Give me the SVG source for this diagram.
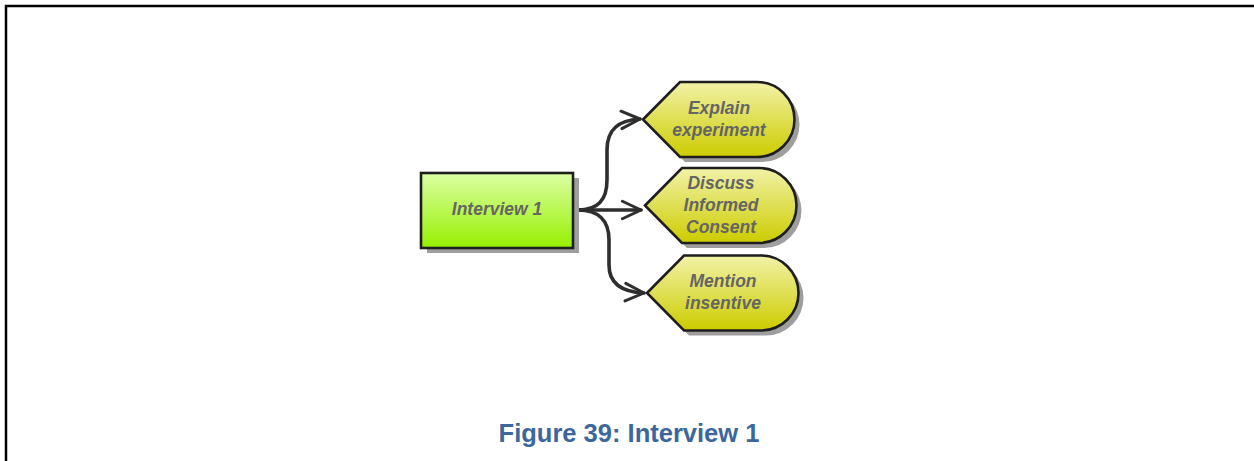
<svg xmlns="http://www.w3.org/2000/svg" width="1254" height="461" viewBox="0 0 1254 461">
  <style>
    .node-text { font-family: "Liberation Sans", Arial, sans-serif; font-weight: bold; font-style: italic; font-size: 17.5px; fill: #656565; text-anchor: middle; }
    .outline { stroke: #1e1e1e; stroke-width: 2.6; }
    .shadow { fill: #9e9e9e; filter: url(#soft); }
    .conn { fill: none; stroke: #2e2e2e; stroke-width: 3.6; stroke-linecap: round; stroke-linejoin: round; }
    .caption { font-family: "Liberation Sans", Arial, sans-serif; font-weight: bold; font-size: 25.5px; fill: #3b679d; text-anchor: middle; }
  </style>
  <defs>
    <linearGradient id="greenFill" x1="0" y1="0" x2="0" y2="1">
      <stop offset="0" stop-color="#dcffa4"/>
      <stop offset="1" stop-color="#96f000"/>
    </linearGradient>
    <linearGradient id="yellowFill" x1="0" y1="0" x2="0" y2="1">
      <stop offset="0" stop-color="#f2f2a8"/>
      <stop offset="1" stop-color="#cccc00"/>
    </linearGradient>
    <filter id="soft" x="-10%" y="-10%" width="120%" height="120%">
      <feGaussianBlur stdDeviation="0.6"/>
    </filter>
    <marker id="chevron" viewBox="0 0 12 12" refX="11" refY="6" markerWidth="6.2" markerHeight="6.2" orient="auto" markerUnits="strokeWidth">
      <path d="M1,1.3 L11,6 L1,10.7" fill="none" stroke="#2e2e2e" stroke-width="1.6" stroke-linecap="round" stroke-linejoin="round"/>
    </marker>
    <path id="tag" d="M0,0 L37,-37.5 L114,-37.5 A37.5,37.5 0 0 1 114,37.5 L37,37.5 Z"/>
  </defs>

  <rect width="1254" height="461" fill="#ffffff"/>

  <!-- page frame: left and top rule -->
  <path d="M6,461 L6,6 L1254,6" fill="none" stroke="#000000" stroke-width="2.5"/>

  <!-- connectors -->
  <g id="connectors">
    <path class="conn" d="M574,210 L590,210"/>
    <path class="conn" d="M584,210 L641,210" marker-end="url(#chevron)"/>
    <path class="conn" d="M578,210 C598,210 607,200 607,180 L607,150 C607,128 620,120 640,119" marker-end="url(#chevron)"/>
    <path class="conn" d="M578,210 C598,210 609,220 609,240 L609,265 C609,284 622,292 644,293" marker-end="url(#chevron)"/>
  </g>

  <!-- Interview 1 -->
  <g id="node-interview">
    <rect class="shadow" x="427" y="178" width="152" height="75"/>
    <rect class="outline" x="421" y="173" width="152" height="75" fill="url(#greenFill)"/>
    <text class="node-text" x="497" y="215">Interview 1</text>
  </g>

  <!-- Explain experiment -->
  <g id="node-explain">
    <use href="#tag" class="shadow" x="648" y="124.5"/>
    <use href="#tag" class="outline" x="643" y="119.5" fill="url(#yellowFill)"/>
    <text class="node-text" x="719" y="114">Explain</text>
    <text class="node-text" x="719" y="136">experiment</text>
  </g>

  <!-- Discuss Informed Consent -->
  <g id="node-discuss">
    <use href="#tag" class="shadow" x="650" y="210.5"/>
    <use href="#tag" class="outline" x="645" y="205.5" fill="url(#yellowFill)"/>
    <text class="node-text" x="721" y="189">Discuss</text>
    <text class="node-text" x="721" y="211">Informed</text>
    <text class="node-text" x="721" y="233">Consent</text>
  </g>

  <!-- Mention insentive -->
  <g id="node-mention">
    <use href="#tag" class="shadow" x="652" y="298"/>
    <use href="#tag" class="outline" x="647" y="293" fill="url(#yellowFill)"/>
    <text class="node-text" x="723" y="287">Mention</text>
    <text class="node-text" x="723" y="309">insentive</text>
  </g>

  <text class="caption" x="629" y="442">Figure 39: Interview 1</text>
</svg>
